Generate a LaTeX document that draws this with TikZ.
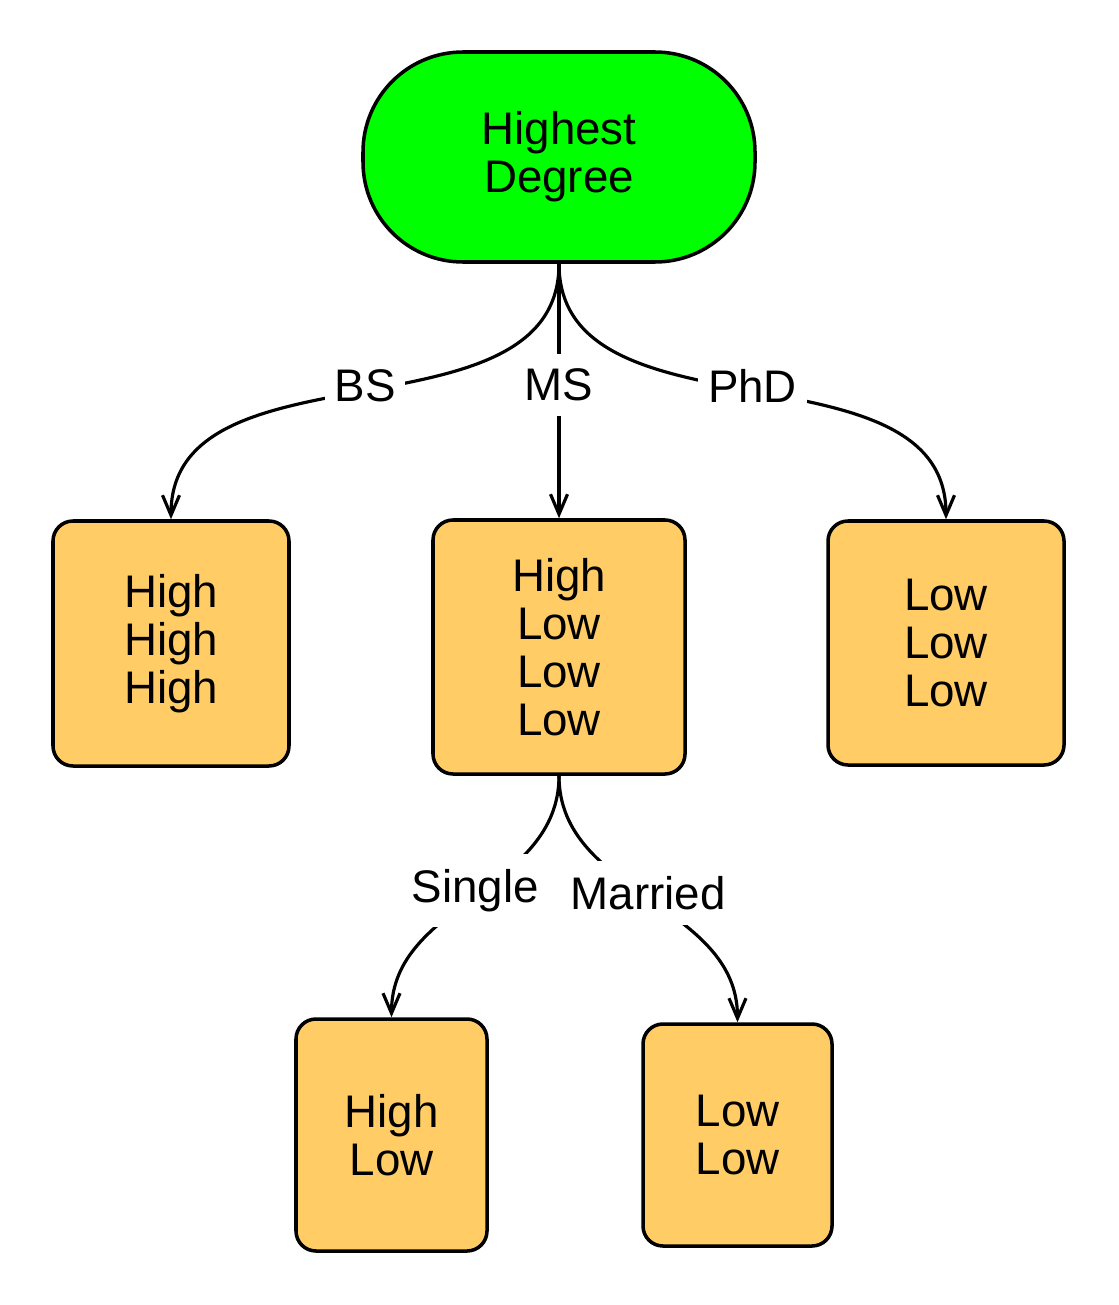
\documentclass[tikz,border=0pt]{standalone}
\usepackage{fontspec}
\setmainfont{Liberation Sans}
\usetikzlibrary{arrows.meta,positioning}
\definecolor{rootgreen}{RGB}{0,255,0}
\definecolor{leafyellow}{HTML}{FFCC66}
\tikzset{
  tree font/.style={font=\fontsize{26}{27.3}\selectfont},
  root node/.style={tree font, draw, line width=2pt, fill=rootgreen, align=center,
    rounded corners=2cm, minimum width=7.84cm, minimum height=4.2cm},
  leaf node/.style={tree font, draw, line width=2pt, fill=leafyellow, align=center,
    rounded corners=0.4cm},
  branch/.style={line width=1.8pt, -{Straight Barb[length=0.4cm,width=0.34cm,line width=1.8pt]},
    out=-90, in=90},
  choice/.style={tree font, fill=white, inner xsep=0.2cm, inner ysep=0.3cm, pos=0.5, yshift=0.12cm}
}

\begin{document}
\begin{tikzpicture}
  \useasboundingbox (0,0) rectangle (22.36,-26.1);

  \node (degree) [root node] at(11.18,-3.14) {Highest\\Degree};

  % first split
  \node (bs) [leaf node, minimum width=4.72cm, minimum height=4.9cm] at(3.42,-12.87) {High\\High\\High};
  \node (ms) [leaf node, minimum width=5.04cm, minimum height=5.08cm] at(11.18,-12.94) {High\\Low\\Low\\Low};
  \node (phd) [leaf node, minimum width=4.72cm, minimum height=4.88cm] at(18.92,-12.86) {Low\\Low\\Low};

  % second split
  \node (single) [leaf node, minimum width=3.82cm, minimum height=4.64cm] at(7.83,-22.7) {High\\Low};
  \node (married) [leaf node, minimum width=3.78cm, minimum height=4.44cm] at(14.75,-22.7) {Low\\Low};

  \path (degree.south) edge[branch] node[choice] {BS} (bs.north)
        (degree.south) edge[branch] node[choice] {MS} (ms.north)
        (degree.south) edge[branch] node[choice] {PhD} (phd.north);
  \path (ms.south) edge[branch] node[choice] {Single} (single.north)
        (ms.south) edge[branch] node[choice] {Married} (married.north);
\end{tikzpicture}
\end{document}
